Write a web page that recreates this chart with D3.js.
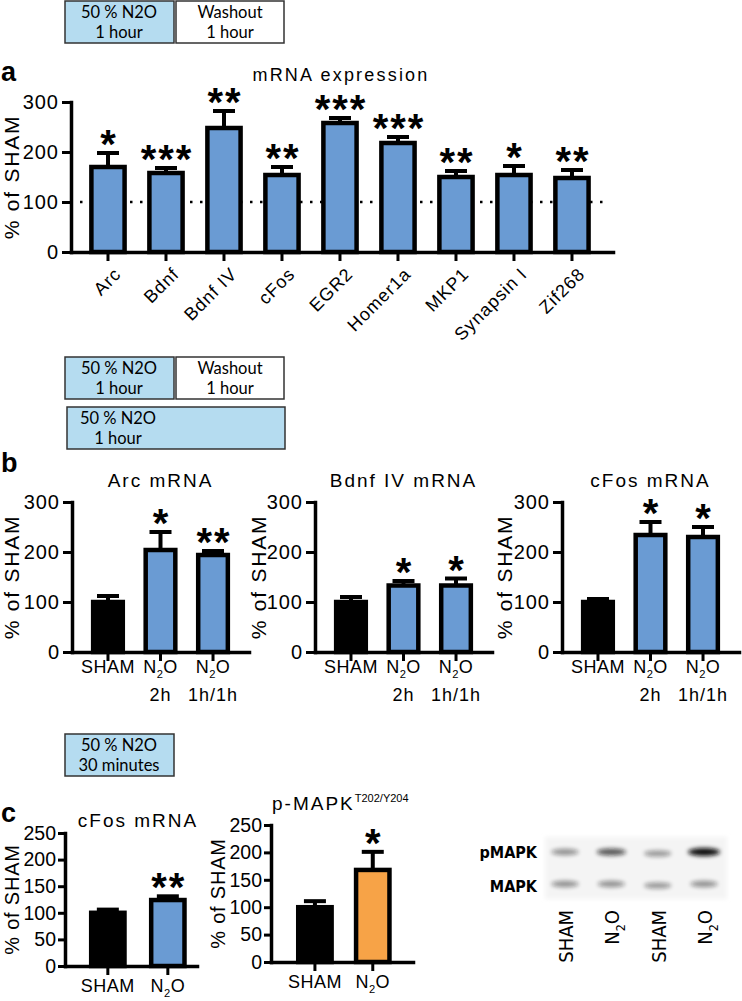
<!DOCTYPE html>
<meta charset="utf-8">
<script src="https://cdn.jsdelivr.net/npm/d3@7"></script>
<style>
  body { margin: 0; background: #fff; }
  svg text { font-family: "Liberation Sans", Arial, sans-serif; fill: #000; }
  .box text { font-family: Lato, "Open Sans", sans-serif; font-size: 16.5px; }
  .blot text { font-family: "Liberation Sans Narrow", "DejaVu Sans Condensed", sans-serif; }
</style>
<body>
<svg id="fig" width="742" height="1001"></svg>
<script>
// ---- data ----
var geneNames = ["Arc", "Bdnf", "Bdnf IV", "cFos", "EGR2", "Homer1a", "MKP1", "Synapsin I", "Zif268"];
var geneMean  = [170, 158, 248, 154, 258, 218, 150, 154, 148];
var geneErr   = [28, 10, 34, 16, 10, 12, 12, 18, 16];
var geneStars = ["*", "***", "**", "**", "***", "***", "**", "*", "**"];

var bGroups    = ["SHAM", "N2O 2h", "N2O 1h/1h"];
var bLabelTop  = ["SHAM", "N2O", "N2O"];
var bLabelBot  = ["", "2h", "1h/1h"];
var arcMean    = [100, 204, 194];
var arcErr     = [12, 36, 8];
var arcStars   = ["", "*", "**"];
var bdnfMean   = [100, 133, 133];
var bdnfErr    = [10, 9, 14];
var bdnfStars  = ["", "*", "*"];
var cfosMean   = [100, 234, 230];
var cfosErr    = [6, 26, 20];
var cfosStars  = ["", "*", "*"];

var cGroups    = ["SHAM", "N2O"];
var cCfosMean  = [100, 124];
var cCfosErr   = [6, 7];
var cCfosStars = ["", "**"];
var mapkMean   = [100, 168];
var mapkErr    = [11, 33];
var mapkStars  = ["", "*"];

var yTicks300 = [0, 100, 200, 300];
var yTicks250 = [0, 50, 100, 150, 200, 250];

var blotLanes = ["SHAM", "N2O", "SHAM", "N2O"];
var pmapkBand = [0.42, 0.68, 0.4, 1.0];
var mapkBand  = [0.42, 0.42, 0.4, 0.42];

var BLUE = "#6a9bd3", ORANGE = "#f7a347", BOXBLUE = "#b5dcf0";

var svg = d3.select("#fig");

// blur filter for the blot bands
svg.append("defs").append("filter").attr("id", "blur")
  .attr("x", "-50%").attr("y", "-100%").attr("width", "200%").attr("height", "300%")
  .append("feGaussianBlur").attr("stdDeviation", 2);

// text with N2O subscript
function chem(sel, str, size) {
  var parts = str.split("N2O");
  parts.forEach(function(p, i) {
    if (p) sel.append("tspan").text(p);
    if (i < parts.length - 1) {
      sel.append("tspan").text("N");
      sel.append("tspan").attr("font-size", size * 0.62).attr("dy", size * 0.28).text("2");
      sel.append("tspan").attr("dy", -size * 0.28).text("O");
    }
  });
}

function box(x, y, w, h, fill, lines, cx) {
  var g = svg.append("g").attr("class", "box");
  g.append("rect").attr("x", x).attr("y", y).attr("width", w).attr("height", h)
    .attr("fill", fill).attr("stroke", "#333").attr("stroke-width", 1.5);
  lines.forEach(function(t, i) {
    g.append("text").attr("x", cx).attr("y", y + 17 + i * 19.5)
      .attr("text-anchor", "middle").text(t);
  });
}

function barPanel(p) {
  var x = d3.scaleBand().domain(p.cats).range([p.left, p.right])
    .paddingInner(p.pi).paddingOuter(p.po).align(p.al);
  var y = d3.scaleLinear().domain([0, p.max]).range([p.bottom, p.top]);
  var g = svg.append("g");
  var rows = p.cats.map(function(c, i) {
    return {cat: c, mean: p.means[i], err: p.errs[i], star: p.stars[i], fill: p.fills[i]};
  });
  var cx = function(d) { return x(d.cat) + x.bandwidth() / 2; };
  var sw = p.sw || 4.5;
  var tick = p.tick || 9;

  if (p.refLine) {
    g.append("line").attr("x1", p.left + 9).attr("x2", p.right - 4)
      .attr("y1", y(100)).attr("y2", y(100))
      .attr("stroke", "#000").attr("stroke-width", 2.5).attr("stroke-dasharray", "2.5,7.5");
  }

  // error bars (upper only)
  g.selectAll(".err").data(rows).join("line")
    .attr("x1", cx).attr("x2", cx)
    .attr("y1", function(d) { return y(d.mean); })
    .attr("y2", function(d) { return y(d.mean + d.err); })
    .attr("stroke", "#000").attr("stroke-width", 4);
  g.selectAll(".cap").data(rows).join("line")
    .attr("x1", function(d) { return cx(d) - 11; })
    .attr("x2", function(d) { return cx(d) + 11; })
    .attr("y1", function(d) { return y(d.mean + d.err); })
    .attr("y2", function(d) { return y(d.mean + d.err); })
    .attr("stroke", "#000").attr("stroke-width", 4);

  g.selectAll(".bar").data(rows).join("rect")
    .attr("x", function(d) { return x(d.cat) + sw / 2; })
    .attr("width", x.bandwidth() - sw)
    .attr("y", function(d) { return y(d.mean); })
    .attr("height", function(d) { return y(0) - y(d.mean); })
    .attr("fill", function(d) { return d.fill; })
    .attr("stroke", "#000").attr("stroke-width", sw);

  // axes
  var ya = g.append("g").attr("transform", "translate(" + p.left + ",0)")
    .call(d3.axisLeft(y).tickValues(p.ticks).tickSize(tick).tickSizeOuter(0).tickPadding(p.pad || 3));
  var xa = g.append("g").attr("transform", "translate(0," + p.bottom + ")")
    .call(d3.axisBottom(x).tickSize(9).tickSizeOuter(0).tickFormat(""));
  [ya, xa].forEach(function(a) {
    a.attr("font-family", null).attr("font-size", null);
    a.select(".domain").attr("stroke", "#000").attr("stroke-width", 3.5).attr("stroke-linecap", "square");
    a.selectAll(".tick line").attr("stroke", "#000").attr("stroke-width", 3);
  });
  ya.selectAll("text").attr("font-size", p.tickFont || 20)
    .style("letter-spacing", (p.tickSpace == null ? 1 : p.tickSpace) + "px").attr("fill", "#000");

  // significance stars
  g.selectAll(".star").data(rows.filter(function(d) { return d.star; })).join("text")
    .attr("x", function(d) { return cx(d) + 1; })
    .attr("y", function(d) { return y(d.mean + d.err) + 5; })
    .attr("text-anchor", "middle").attr("font-size", 40).attr("font-weight", "bold")
    .style("letter-spacing", "2px")
    .text(function(d) { return d.star; });

  // y title
  g.append("text")
    .attr("transform", "translate(" + p.ylx + "," + ((p.top + p.bottom) / 2) + ") rotate(-90)")
    .attr("text-anchor", "middle").attr("font-size", p.ylFont || 21)
    .style("letter-spacing", (p.ylSpace || 1.8) + "px")
    .text("% of SHAM");

  return {x: x, y: y, g: g, cx: function(c) { return x(c) + x.bandwidth() / 2; }};
}

function title(x, y, t, size, space) {
  return svg.append("text").attr("x", x).attr("y", y).attr("text-anchor", "middle")
    .attr("font-size", size).style("letter-spacing", space + "px").text(t);
}
function letter(x, y, t) {
  svg.append("text").attr("x", x).attr("y", y).attr("font-size", 27).attr("font-weight", "bold").text(t);
}

// ---- panel a ----
box(65, 1, 109, 42, BOXBLUE, ["50 % N2O", "1 hour"], 119);
box(176, 1, 108, 42, "#fff", ["Washout", "1 hour"], 230);
letter(1, 81, "a");
title(341, 81, "mRNA expression", 18, 2.2);

var pa = barPanel({
  cats: geneNames, means: geneMean, errs: geneErr, stars: geneStars,
  fills: geneNames.map(function() { return BLUE; }),
  left: 71, right: 613, top: 102, bottom: 252, max: 300, ticks: yTicks300,
  pi: 0.35, po: 0.3475, al: 0.45, refLine: true, ylx: 19
});
pa.g.selectAll(".xl").data(geneNames).join("text")
  .attr("transform", function(d) { return "translate(" + (pa.cx(d) + 5) + ",266) rotate(-45)"; })
  .attr("text-anchor", "end").attr("dy", "0.72em").attr("font-size", 18)
  .style("letter-spacing", "1px").text(function(d) { return d; });

// ---- panel b ----
box(65, 357, 109, 42, BOXBLUE, ["50 % N2O", "1 hour"], 119);
box(176, 357, 108, 42, "#fff", ["Washout", "1 hour"], 230);
box(67, 407, 218, 42, BOXBLUE, ["50 % N2O", "1 hour"], 118);
letter(1, 472, "b");

var bPanels = [
  {name: "Arc mRNA", means: arcMean, errs: arcErr, stars: arcStars, left: 72, ylx: 19},
  {name: "Bdnf IV mRNA", means: bdnfMean, errs: bdnfErr, stars: bdnfStars, left: 315, ylx: 266},
  {name: "cFos mRNA", means: cfosMean, errs: cfosErr, stars: cfosStars, left: 562, ylx: 512}
];
bPanels.forEach(function(b) {
  var pb = barPanel({
    cats: bGroups, means: b.means, errs: b.errs, stars: b.stars,
    fills: ["#000", BLUE, BLUE],
    left: b.left, right: b.left + 177, top: 502, bottom: 652, max: 300, ticks: yTicks300,
    pi: 0.35, po: 0.36, al: 0.5, ylx: b.ylx
  });
  title(pb.cx(bGroups[1]), 487, b.name, 19, 2);
  bGroups.forEach(function(c, i) {
    var t = pb.g.append("text").attr("x", pb.cx(c)).attr("y", 673)
      .attr("text-anchor", "middle").attr("font-size", 18).style("letter-spacing", "0.5px");
    chem(t, bLabelTop[i], 18);
    if (bLabelBot[i]) {
      pb.g.append("text").attr("x", pb.cx(c)).attr("y", 701)
        .attr("text-anchor", "middle").attr("font-size", 18).style("letter-spacing", "1px")
        .text(bLabelBot[i]);
    }
  });
});

// ---- panel c ----
box(65, 734, 109, 42, BOXBLUE, ["50 % N2O", "30 minutes"], 119);
letter(1, 822, "c");

var pc1 = barPanel({
  cats: cGroups, means: cCfosMean, errs: cCfosErr, stars: cCfosStars, fills: ["#000", BLUE],
  left: 65, right: 197, top: 833, bottom: 966, max: 250, ticks: yTicks250,
  pi: 0.37, po: 0.285, al: 0.7, ylx: 19, ylFont: 20, ylSpace: 0.8,
  tickFont: 19.5, tickSpace: 0, tick: 7, pad: 2
});
title(138, 827, "cFos mRNA", 19, 2);
var pc2 = barPanel({
  cats: cGroups, means: mapkMean, errs: mapkErr, stars: mapkStars, fills: ["#000", ORANGE],
  left: 271, right: 413, top: 825, bottom: 962, max: 250, ticks: yTicks250,
  pi: 0.345, po: 0.4, al: 0.54, ylx: 225, ylFont: 20, ylSpace: 0.8,
  tickFont: 19.5, tickSpace: 0, tick: 7, pad: 2
});
var mt = svg.append("text").attr("x", 272).attr("y", 810).attr("font-size", 19).style("letter-spacing", "2px");
mt.append("tspan").text("p-MAPK");
mt.append("tspan").attr("font-size", 11).attr("dy", -8).style("letter-spacing", "0px").text("T202/Y204");

[[pc1, 992], [pc2, 988]].forEach(function(pp) {
  cGroups.forEach(function(c) {
    var t = pp[0].g.append("text").attr("x", pp[0].cx(c)).attr("y", pp[1])
      .attr("text-anchor", "middle").attr("font-size", 18).style("letter-spacing", "0.5px");
    chem(t, c, 18);
  });
});

// ---- western blot ----
var blot = svg.append("g").attr("class", "blot");
var lane = d3.scalePoint().domain(d3.range(blotLanes.length)).range([565, 704]);
blot.append("rect").attr("x", 545).attr("y", 837).attr("width", 182).attr("height", 62)
  .attr("fill", "#f4f4f4").attr("filter", "url(#blur)");
[[pmapkBand, 852], [mapkBand, 884]].forEach(function(row) {
  blot.selectAll(null).data(row[0]).join("ellipse")
    .attr("cx", function(d, i) { return lane(i); })
    .attr("cy", function(d, i) { return row[1] + (i === 2 ? 1.5 : 0); })
    .attr("rx", function(d) { return 12 + d * 4; })
    .attr("ry", function(d) { return 2.5 + d * 1.5; })
    .attr("fill", "#111").attr("opacity", function(d) { return d; })
    .attr("filter", "url(#blur)");
});
blot.append("text").attr("x", 537).attr("y", 858).attr("text-anchor", "end")
  .attr("font-size", 16).attr("font-weight", "bold").text("pMAPK");
blot.append("text").attr("x", 537).attr("y", 892).attr("text-anchor", "end")
  .attr("font-size", 16).attr("font-weight", "bold").text("MAPK");
blotLanes.forEach(function(l, i) {
  var t = blot.append("text")
    .attr("transform", "translate(" + (lane(i) + 8) + ",910) rotate(-90)")
    .attr("text-anchor", "end").attr("font-size", 20);
  chem(t, l, 20);
});
</script>
</body>
